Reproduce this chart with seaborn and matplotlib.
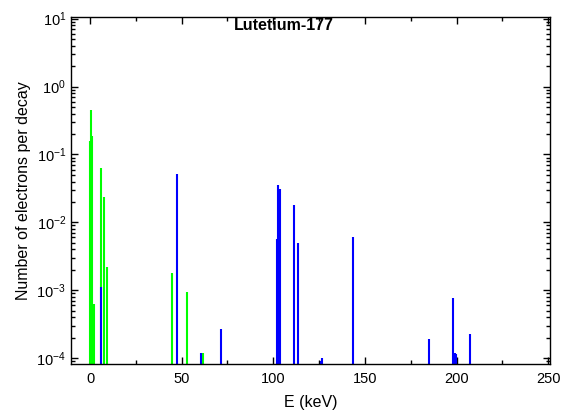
import matplotlib
matplotlib.use("Agg")
from matplotlib import pyplot as plt, ticker
import seaborn as sns
import pandas as pd
import numpy as np

# Auger / low energy electrons (green)
green_E = [0.0, 0.5, 1.0, 2.0, 6.0, 7.5, 9.3, 44.6, 53.0, 61.6]
green_N = [0.16, 0.45, 0.19, 6.3e-4, 0.064, 0.024, 0.0022, 0.0018, 9.3e-4, 1.2e-4]

# conversion electrons (blue)
blue_E = [6.1, 47.4, 60.8, 71.6, 101.8, 102.6, 103.8, 111.2, 113.3,
          125.9, 126.4, 143.4, 184.9, 198.0, 198.9, 199.9, 207.1]
blue_N = [0.0011, 0.052, 1.2e-4, 2.7e-4, 0.0056, 0.035, 0.031, 0.018, 0.0049,
          9.0e-5, 1.0e-4, 0.006, 1.9e-4, 7.7e-4, 1.2e-4, 1.15e-4, 2.3e-4]

title = "Lutetium-177"
xlabel = "E (keV)"
ylabel = "Number of electrons per decay"

df = pd.concat([
    pd.DataFrame({"E": green_E, "N": green_N, "type": "auger"}),
    pd.DataFrame({"E": blue_E, "N": blue_N, "type": "ce"}),
])

sns.set_style("ticks")
plt.rcParams["font.family"] = ["Liberation Sans", "DejaVu Sans"]
plt.rcParams["mathtext.default"] = "regular"
plt.rcParams["text.color"] = "black"
plt.rcParams["axes.labelcolor"] = "black"
plt.rcParams["xtick.color"] = "black"
plt.rcParams["ytick.color"] = "black"

fig = plt.figure(figsize=(5.66, 4.17), dpi=100)
ax = fig.add_axes([0.1254, 0.127, 0.8463, 0.833])

ymin, ymax = 8.2e-5, 10.7
colors = {"auger": "#00ff00", "ce": "#0000ff"}
for t in ["auger", "ce"]:
    d = df[df["type"] == t]
    ax.vlines(d["E"], ymin, d["N"], colors=colors[t], linewidth=1.5)

ax.set_yscale("log")
ax.set_xlim(-10.4, 251)
ax.set_ylim(ymin, ymax)
ax.xaxis.set_major_locator(ticker.MultipleLocator(50))
ax.xaxis.set_minor_locator(ticker.MultipleLocator(25))
ax.yaxis.set_major_locator(ticker.LogLocator(base=10, numticks=10))
ax.yaxis.set_minor_locator(ticker.LogLocator(base=10, subs=np.arange(2, 10), numticks=10))
ax.yaxis.set_minor_formatter(ticker.NullFormatter())

ax.tick_params(which="both", direction="in", top=True, right=True,
               labelsize=10.5, width=1, labelcolor="black")
ax.tick_params(which="major", length=5)
ax.tick_params(which="minor", length=3)
ax.tick_params(axis="x", pad=6)
for s in ax.spines.values():
    s.set_visible(True)
    s.set_color("black")
    s.set_linewidth(1)

ax.set_xlabel(xlabel, fontsize=11.5, labelpad=6, color="black")
ax.set_ylabel(ylabel, fontsize=11.5, labelpad=4, color="black")
ax.text(105.6, 0.976, title, transform=ax.get_xaxis_transform(),
        ha="center", va="center", fontsize=11.5, fontweight="bold", color="black")

fig.savefig("out.png", dpi=100)
